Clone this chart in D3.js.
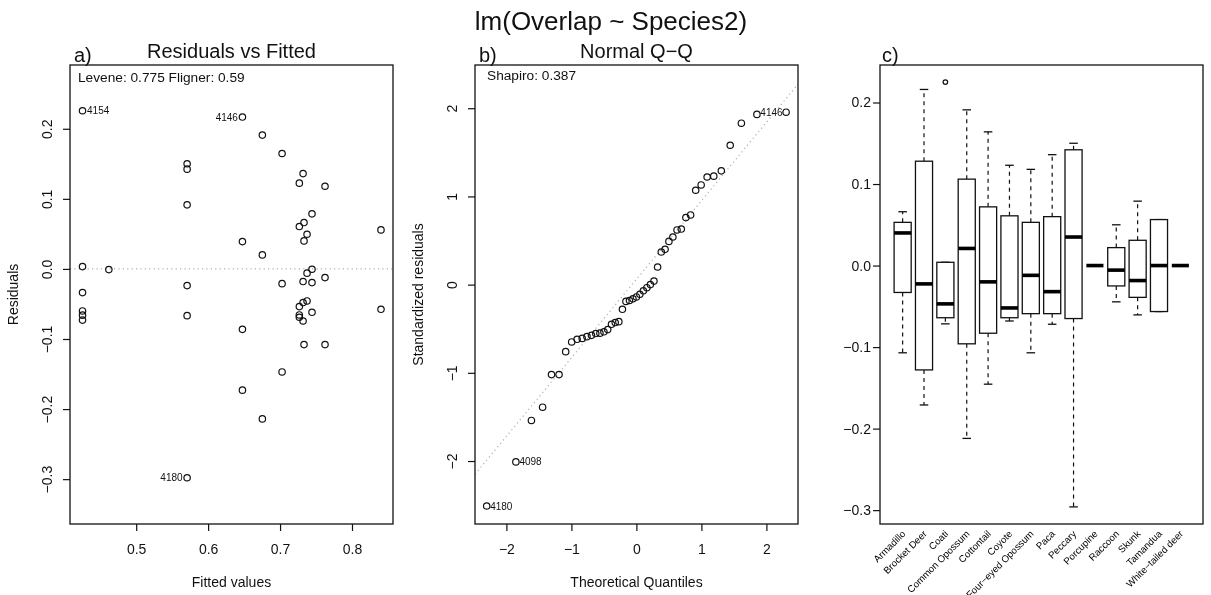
<!DOCTYPE html>
<html>
<head>
<meta charset="utf-8">
<title>lm(Overlap ~ Species2)</title>
<script src="https://d3js.org/d3.v7.min.js"></script>
<style>
  body { margin: 0; background: #fff; }
  svg { will-change: transform; }
  svg text { font-family: "Liberation Sans", Arial, sans-serif; fill: #111; }
  .frame { fill: none; stroke: #111; stroke-width: 1.3; }
  .tick line { stroke: #111; stroke-width: 1.2; }
  .tick text { font-size: 14px; }
  .pt { fill: none; stroke: #111; stroke-width: 1.2; }
  .ref { stroke: #adadad; stroke-width: 1.2; stroke-dasharray: 1.2 3.2; fill: none; }
  .ptlab { font-size: 10px; }
  .ttl { font-size: 20px; }
  .axtitle { font-size: 14px; }
  .note { font-size: 13.7px; }
  .whisk { stroke: #111; stroke-width: 1.2; stroke-dasharray: 4 4; }
  .staple { stroke: #111; stroke-width: 1.3; }
  .bx { fill: #fff; stroke: #111; stroke-width: 1.3; }
  .med { stroke: #000; stroke-width: 3.6; }
  svg text.cat { font-size: 9.7px; fill: #000; }
</style>
</head>
<body>
<script>
  // ---- data ----
  // a) residuals vs fitted
  const fittedVals = [0.4254, 0.6477, 0.6754, 0.7028, 0.5708, 0.5708, 0.732, 0.7268, 0.7625, 0.5708,
    0.7444, 0.7333, 0.7268, 0.7375, 0.7333, 0.8403, 0.6477, 0.6754, 0.4254, 0.462,
    0.7444, 0.7375, 0.7625, 0.732, 0.7444, 0.5708, 0.7028, 0.4254, 0.4254, 0.4254,
    0.4254, 0.5708, 0.7268, 0.732, 0.7375, 0.7268, 0.7268, 0.732, 0.7444, 0.8403,
    0.6477, 0.7333, 0.7625, 0.7028, 0.6477, 0.6754, 0.5708];
  const residVals = [0.2257, 0.2167, 0.191, 0.1647, 0.150, 0.1424, 0.136, 0.1224, 0.118, 0.0914,
    0.0786, 0.0662, 0.0605, 0.0495, 0.040, 0.0557, 0.039, 0.020, 0.0033, -0.001,
    -0.0005, -0.006, -0.0124, -0.018, -0.0195, -0.0238, -0.021, -0.0338, -0.060, -0.066,
    -0.073, -0.0667, -0.0538, -0.048, -0.0457, -0.0657, -0.069, -0.0743, -0.0619, -0.0576,
    -0.0862, -0.108, -0.108, -0.147, -0.173, -0.214, -0.298];
  const residLabelIdx = [0, 1, 46];
  const residLabelTxt = ["4154", "4146", "4180"];
  const fittedTicks = [0.5, 0.6, 0.7, 0.8];
  const residTicks = [0.2, 0.1, 0, -0.1, -0.2, -0.3];

  // b) normal Q-Q
  const qqTheo = [-2.303, -1.854, -1.615, -1.443, -1.306, -1.190, -1.088, -0.996, -0.912, -0.834,
    -0.761, -0.691, -0.625, -0.561, -0.500, -0.441, -0.383, -0.326, -0.270, -0.215,
    -0.161, -0.107, -0.053, 0, 0.053, 0.107, 0.161, 0.215, 0.270, 0.326,
    0.383, 0.441, 0.500, 0.561, 0.625, 0.691, 0.761, 0.834, 0.912, 0.996,
    1.088, 1.190, 1.306, 1.443, 1.615, 1.854, 2.303];
  const qqStd = [-2.51, -2.01, -1.54, -1.39, -1.02, -1.02, -0.76, -0.65, -0.62, -0.61,
    -0.59, -0.575, -0.555, -0.55, -0.535, -0.51, -0.45, -0.43, -0.42, -0.28,
    -0.19, -0.18, -0.16, -0.14, -0.11, -0.07, -0.035, 0.0, 0.04, 0.20,
    0.37, 0.40, 0.49, 0.54, 0.62, 0.63, 0.76, 0.79, 1.07, 1.13,
    1.22, 1.23, 1.29, 1.58, 1.83, 1.93, 1.955];
  const qqLabelIdx = [46, 1, 0];
  const qqLabelTxt = ["4146", "4098", "4180"];
  const qqLineIntercept = 0.06, qqLineSlope = 0.89;
  const theoTicks = [-2, -1, 0, 1, 2];
  const stdTicks = [2, 1, 0, -1, -2];

  // c) residuals by species
  const species = ["Armadillo", "Brocket Deer", "Coati", "Common Opossum", "Cottontail", "Coyote",
    "Four−eyed Opossum", "Paca", "Peccary", "Porcupine", "Raccoon", "Skunk", "Tamandua", "White−tailed deer"];
  const whiskHi = [0.066, 0.216, 0.004, 0.191, 0.164, 0.123, 0.118, 0.136, 0.150, 0, 0.050, 0.079, 0.0564, 0];
  const hingeHi = [0.053, 0.128, 0.004, 0.106, 0.072, 0.061, 0.053, 0.060, 0.142, 0, 0.022, 0.031, 0.0564, 0];
  const medians = [0.040, -0.0225, -0.047, 0.021, -0.020, -0.052, -0.012, -0.032, 0.035, 0, -0.0056, -0.0184, 0, 0];
  const hingeLo = [-0.033, -0.128, -0.064, -0.096, -0.083, -0.064, -0.059, -0.059, -0.065, 0, -0.025, -0.039, -0.0564, 0];
  const whiskLo = [-0.107, -0.171, -0.0715, -0.212, -0.1455, -0.068, -0.107, -0.072, -0.296, 0, -0.0445, -0.0605, -0.0564, 0];
  const outSpecies = ["Coati"];
  const outValues = [0.225];
  const boxTicks = [0.2, 0.1, 0, -0.1, -0.2, -0.3];

  // ---- layout ----
  const plotTop = 65, plotBottom = 524;
  const pa = {l: 70, r: 393}, pb = {l: 475, r: 798}, pc = {l: 880, r: 1203};

  const svg = d3.select("body").append("svg")
    .attr("width", 1211)
    .attr("height", 595);

  const fmt1 = d3.format(".1f");
  const fmt0 = d3.format("d");

  function xAxis(scale, ticks, f) {
    svg.append("g")
      .attr("transform", "translate(0," + plotBottom + ")")
      .call(d3.axisBottom(scale).tickValues(ticks).tickSize(7).tickPadding(13).tickFormat(f))
      .call(a => a.select(".domain").remove());
  }
  function yAxisRot(scale, ticks, f, x0) {
    svg.append("g")
      .attr("transform", "translate(" + x0 + ",0)")
      .call(d3.axisLeft(scale).tickValues(ticks).tickSize(7).tickFormat(f))
      .call(a => a.select(".domain").remove())
      .call(a => a.selectAll("text")
        .attr("x", null).attr("dy", null)
        .attr("text-anchor", "middle")
        .attr("transform", "translate(-18,0) rotate(-90)"));
  }
  function frame(p) {
    svg.append("rect").attr("class", "frame")
      .attr("x", p.l).attr("y", plotTop)
      .attr("width", p.r - p.l).attr("height", plotBottom - plotTop);
  }
  function panelTitle(p, letter, txt) {
    svg.append("text").attr("class", "ttl")
      .attr("x", (p.l + p.r) / 2).attr("y", 58)
      .attr("text-anchor", "middle").text(txt);
    svg.append("text").attr("class", "ttl")
      .attr("x", p.l + 4).attr("y", 62).text(letter);
  }

  // main title
  svg.append("text")
    .attr("x", 611).attr("y", 30)
    .attr("text-anchor", "middle")
    .style("font-size", "26px")
    .text("lm(Overlap ~ Species2)");

  // ---------- a) Residuals vs Fitted ----------
  const xa = d3.scaleLinear().domain([0.408, 0.857]).range([pa.l, pa.r]);
  const ya = d3.scaleLinear().domain([-0.364, 0.291]).range([plotBottom, plotTop]);

  svg.append("line").attr("class", "ref")
    .attr("x1", pa.l).attr("x2", pa.r)
    .attr("y1", ya(0)).attr("y2", ya(0));

  svg.append("g").selectAll("circle")
    .data(fittedVals)
    .join("circle")
    .attr("class", "pt")
    .attr("cx", d => xa(d))
    .attr("cy", (d, i) => ya(residVals[i]))
    .attr("r", 3.2);

  residLabelIdx.forEach((idx, k) => {
    const right = k === 0; // only 4154 sits to the right of its point
    svg.append("text").attr("class", "ptlab")
      .attr("x", xa(fittedVals[idx]) + (right ? 4.5 : -4.5))
      .attr("y", ya(residVals[idx]))
      .attr("dy", "0.35em")
      .attr("text-anchor", right ? "start" : "end")
      .text(residLabelTxt[k]);
  });

  frame(pa);
  xAxis(xa, fittedTicks, fmt1);
  yAxisRot(ya, residTicks, fmt1, pa.l);
  panelTitle(pa, "a)", "Residuals vs Fitted");

  svg.append("text").attr("class", "note")
    .attr("x", 78).attr("y", 82)
    .text("Levene: 0.775 Fligner: 0.59");
  svg.append("text").attr("class", "axtitle")
    .attr("x", (pa.l + pa.r) / 2).attr("y", 587)
    .attr("text-anchor", "middle").text("Fitted values");
  svg.append("text").attr("class", "axtitle")
    .attr("transform", "translate(18," + (plotTop + plotBottom) / 2 + ") rotate(-90)")
    .attr("text-anchor", "middle").text("Residuals");

  // ---------- b) Normal Q-Q ----------
  const xb = d3.scaleLinear().domain([-2.483, 2.486]).range([pb.l, pb.r]);
  const yb = d3.scaleLinear().domain([-2.714, 2.49]).range([plotBottom, plotTop]);

  svg.append("clipPath").attr("id", "clipb")
    .append("rect")
    .attr("x", pb.l).attr("y", plotTop)
    .attr("width", pb.r - pb.l).attr("height", plotBottom - plotTop);

  const xd = xb.domain();
  svg.append("line").attr("class", "ref")
    .attr("clip-path", "url(#clipb)")
    .attr("x1", xb(xd[0])).attr("y1", yb(qqLineIntercept + qqLineSlope * xd[0]))
    .attr("x2", xb(xd[1])).attr("y2", yb(qqLineIntercept + qqLineSlope * xd[1]));

  svg.append("g").selectAll("circle")
    .data(qqTheo)
    .join("circle")
    .attr("class", "pt")
    .attr("cx", d => xb(d))
    .attr("cy", (d, i) => yb(qqStd[i]))
    .attr("r", 3.2);

  qqLabelIdx.forEach((idx, k) => {
    const right = qqTheo[idx] < 0;
    svg.append("text").attr("class", "ptlab")
      .attr("x", xb(qqTheo[idx]) + (right ? 3.5 : -3.5))
      .attr("y", yb(qqStd[idx]))
      .attr("dy", "0.35em")
      .attr("text-anchor", right ? "start" : "end")
      .text(qqLabelTxt[k]);
  });

  frame(pb);
  xAxis(xb, theoTicks, fmt0);
  yAxisRot(yb, stdTicks, fmt0, pb.l);
  panelTitle(pb, "b)", "Normal Q−Q");

  svg.append("text").attr("class", "note")
    .attr("x", 487).attr("y", 80)
    .text("Shapiro: 0.387");
  svg.append("text").attr("class", "axtitle")
    .attr("x", (pb.l + pb.r) / 2).attr("y", 587)
    .attr("text-anchor", "middle").text("Theoretical Quantiles");
  svg.append("text").attr("class", "axtitle")
    .attr("transform", "translate(" + (pb.l - 52) + "," + (plotTop + plotBottom) / 2 + ") rotate(-90)")
    .attr("text-anchor", "middle").text("Standardized residuals");

  // ---------- c) boxplot by species ----------
  const xc = d3.scaleLinear().domain([-0.06, species.length + 1.06]).range([pc.l, pc.r]);
  const yc = d3.scaleLinear().domain([-0.317, 0.246]).range([plotBottom, plotTop]);
  const bw = xc(0.8) - xc(0);

  const boxes = svg.append("g").selectAll("g")
    .data(species)
    .join("g");

  boxes.each(function(d, i) {
    const g = d3.select(this);
    const cx = xc(i + 1);
    g.append("line").attr("class", "whisk")
      .attr("x1", cx).attr("x2", cx)
      .attr("y1", yc(hingeHi[i])).attr("y2", yc(whiskHi[i]));
    g.append("line").attr("class", "whisk")
      .attr("x1", cx).attr("x2", cx)
      .attr("y1", yc(hingeLo[i])).attr("y2", yc(whiskLo[i]));
    [whiskHi[i], whiskLo[i]].forEach(v => {
      g.append("line").attr("class", "staple")
        .attr("x1", cx - bw / 4).attr("x2", cx + bw / 4)
        .attr("y1", yc(v)).attr("y2", yc(v));
    });
    g.append("rect").attr("class", "bx")
      .attr("x", cx - bw / 2).attr("width", bw)
      .attr("y", yc(hingeHi[i]))
      .attr("height", yc(hingeLo[i]) - yc(hingeHi[i]));
    g.append("line").attr("class", "med")
      .attr("x1", cx - bw / 2).attr("x2", cx + bw / 2)
      .attr("y1", yc(medians[i])).attr("y2", yc(medians[i]));
    g.append("text").attr("class", "cat")
      .attr("text-anchor", "end")
      .attr("dominant-baseline", "central")
      .attr("transform", "translate(" + (cx + 1) + ",532) rotate(-45)")
      .text(d);
  });

  svg.append("g").selectAll("circle")
    .data(outValues)
    .join("circle")
    .attr("class", "pt")
    .attr("cx", (d, i) => xc(species.indexOf(outSpecies[i]) + 1))
    .attr("cy", d => yc(d))
    .attr("r", 2.3);

  frame(pc);
  svg.append("g")
    .attr("transform", "translate(" + pc.l + ",0)")
    .call(d3.axisLeft(yc).tickValues(boxTicks).tickSize(7).tickPadding(2).tickFormat(fmt1))
    .call(a => a.select(".domain").remove());
  svg.append("text").attr("class", "ttl")
    .attr("x", pc.l + 2).attr("y", 62).text("c)");
</script>
</body>
</html>
